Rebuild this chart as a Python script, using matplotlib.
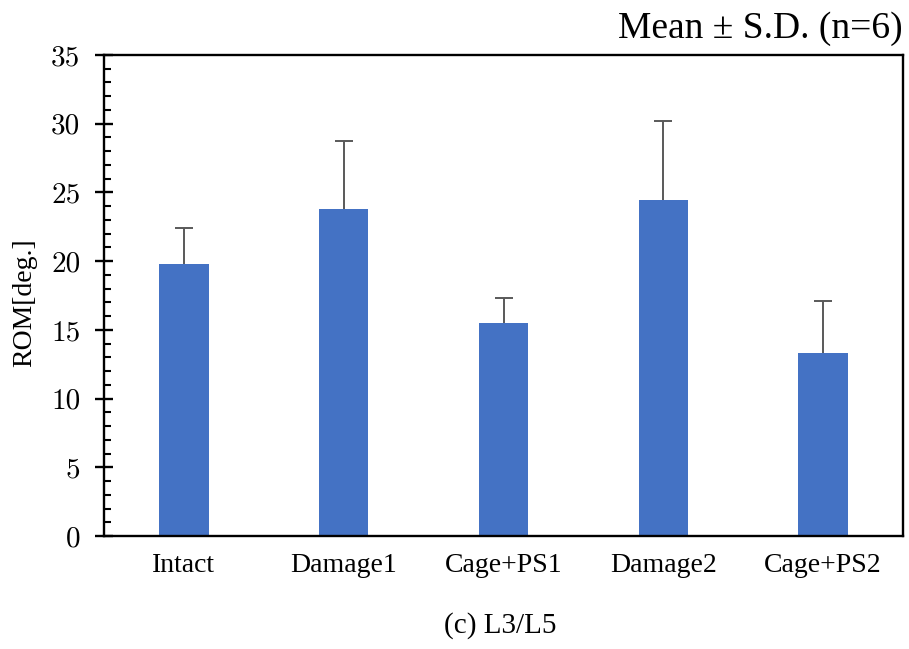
import matplotlib.pyplot as plt
from matplotlib.ticker import MultipleLocator

# ROM at L3/L5 for each condition (mean and S.D., n=6)
conditions = ['Intact', 'Damage1', 'Cage+PS1', 'Damage2', 'Cage+PS2']
rom_mean = [19.77, 23.79, 15.5, 24.45, 13.29]
rom_sd = [2.66, 4.93, 1.8, 5.77, 3.81]

serif = 'Liberation Serif'

fig = plt.figure(figsize=(9.09, 6.49), dpi=100)
ax = fig.add_axes([104 / 909, 113 / 649, 799 / 909, 481 / 649])

x = range(len(conditions))
ax.bar(x, rom_mean, width=0.31, color='#4472C4', zorder=2)
_, caps, _ = ax.errorbar(x, rom_mean, yerr=[[0] * len(rom_sd), rom_sd], fmt='none',
                         ecolor='#595959', elinewidth=1.4, capsize=6.5, capthick=1.4,
                         zorder=3)
# upper-only error bars: drop the lower caps
caps[0].remove()

ax.set_xlim(-0.5, len(conditions) - 0.5)
ax.set_ylim(0, 35)
ax.yaxis.set_major_locator(MultipleLocator(5))
ax.yaxis.set_minor_locator(MultipleLocator(1))

for side in ax.spines.values():
    side.set_linewidth(1.7)
    side.set_color('black')

ax.tick_params(axis='y', which='major', direction='inout', length=13, width=1.7, pad=10.5)
ax.tick_params(axis='y', which='minor', direction='in', length=5, width=1.5)
ax.tick_params(axis='x', length=0, pad=12)

ax.set_xticks(list(x))
ax.set_xticklabels(conditions, fontfamily=serif, fontsize=20)
for lab in ax.get_yticklabels():
    lab.set_fontfamily('cmr10')
    lab.set_fontsize(21)

fig.text(25 / 909, 1 - 303 / 649, 'ROM[deg.]', rotation=90, ha='center', va='center',
         fontfamily=serif, fontsize=20)
fig.text(903 / 909, 1 - 38 / 649, 'Mean ± S.D. (n=6)', ha='right', va='baseline',
         fontfamily=serif, fontsize=27)
fig.text(500 / 909, 1 - 633 / 649, '(c) L3/L5', ha='center', va='baseline',
         fontfamily=serif, fontsize=21)

fig.savefig('out.png', dpi=100)
